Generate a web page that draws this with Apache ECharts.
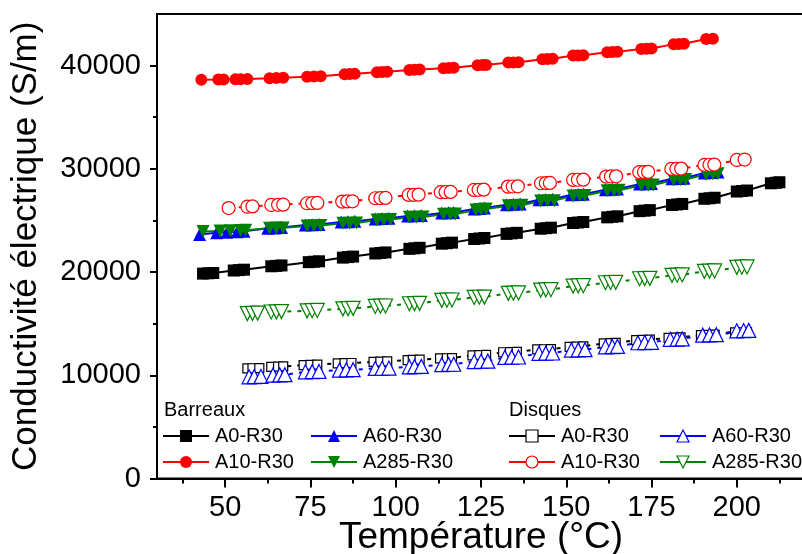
<!DOCTYPE html>
<html><head><meta charset="utf-8">
<script src="https://cdn.jsdelivr.net/npm/echarts@6/dist/echarts.min.js"></script>
<style>html,body{margin:0;padding:0;background:#fff}#c{width:802px;height:554px}</style>
</head><body><div id="c"></div>
<script>
const FONT = '"Liberation Sans", Arial, sans-serif';
const xTickLabels = [50, 75, 100, 125, 150, 175, 200];
const xMinorTicks = [37.5, 62.5, 87.5, 112.5, 137.5, 162.5, 187.5, 212.5];
const yTickLabels = [0, 10000, 20000, 30000, 40000];
const yMinorTicks = [5000, 15000, 25000, 35000];

// Barreaux A0-R30 (filled squares)
const barA0_T = [43.5,45,46.5, 52.5,54,55.5, 63.5,65,66.5, 74.5,76,77.5, 84.5,86,87.5, 94,95.5,97, 104,105.5,107, 113.5,115,116.5, 123,124.5,126, 132.5,134,135.5, 142.5,144,145.5, 152,153.5,155, 162,163.5,165, 171.5,173,174.5, 181,182.5,184, 190.5,192,193.5, 200,201.5,203, 210,211.5,212.5];
const barA0_S = [19850,19880,19910, 20150,20190,20230, 20560,20600,20640, 20960,21000,21040, 21400,21450,21500, 21800,21850,21900, 22250,22300,22350, 22750,22800,22850, 23200,23250,23300, 23700,23750,23800, 24200,24250,24300, 24750,24800,24850, 25300,25350,25400, 25900,25950,26000, 26500,26550,26600, 27100,27150,27200, 27800,27850,27900, 28600,28650,28700];
// Barreaux A10-R30 (filled circles)
const barA10_T = [43, 48,49.5, 53,54.5,56.5, 63,65,67, 74,76,78, 85,86.5,88, 94.5,96,97.5, 104,105.5,107, 114,115.5,117, 124,125.5,126.5, 133,134.5,136, 143,144.5,146, 152,153.5,155, 162,163.5,165, 172,173.5,175, 181.5,183,184.5, 191,193];
const barA10_S = [38630, 38650,38660, 38680,38690,38700, 38780,38800,38820, 38930,38950,38970, 39160,39180,39200, 39360,39380,39400, 39580,39600,39620, 39750,39770,39790, 40030,40050,40070, 40290,40310,40330, 40620,40640,40660, 40970,40990,41010, 41300,41320,41340, 41620,41640,41660, 42080,42100,42120, 42580,42610];
// Barreaux A60-R30 (filled up triangles)
const barA60_T = [42.5, 47.5,50.5,53.5,55.5, 62.5,64.5,66.5, 73.5,75.5,77.5, 84,86,88, 94,96,98, 103.5,105.5,107.5, 113.5,115.5,117, 123,124.5,126, 132.5,134.5,136.5, 142,144,146, 151.5,153.5,155, 161.5,163.5,165, 171.5,173.5,175, 181,183,184.5, 190.5,192.5,194.5];
const barA60_S = [23650, 23800,23850,23900,23950, 24250,24280,24310, 24550,24580,24610, 24850,24880,24910, 25150,25180,25210, 25420,25450,25480, 25720,25750,25780, 26100,26150,26200, 26530,26560,26590, 27000,27030,27060, 27480,27510,27540, 27980,28010,28040, 28520,28550,28580, 29030,29060,29090, 29600,29650,29700];
// Barreaux A285-R30 (filled down triangles)
const barA285_T = [43.5, 48.5,51.5,54.5,56, 63,65,67, 74,76,78, 84.5,86.5,88.5, 94.5,96.5,98.5, 104,106,108, 114,116,117.5, 123.5,125,126.5, 133,135,137, 142.5,144.5,146.5, 152,154,155.5, 162,164,165.5, 172,174,175.5, 181.5,183.5,185, 191,193,194.5];
const barA285_S = [23930, 23980,24000,24020,24040, 24240,24260,24280, 24460,24480,24500, 24720,24740,24760, 25040,25060,25080, 25300,25320,25340, 25590,25610,25630, 26000,26050,26100, 26430,26450,26470, 26880,26900,26920, 27380,27400,27420, 27880,27900,27920, 28400,28420,28440, 28920,28940,28960, 29480,29500,29520];

// Disques A0-R30 (open squares)
const diskA0_T = [56.5,58,60, 63.5,65.5,67, 73,75,77, 83,85,87, 93.5,95.5,97.5, 103.5,105,107, 113,115,116.5, 122.5,124.5,126.5, 131.5,133.5,135.5, 141.5,143.5,145.5, 151,153,155, 161,163,164.5, 170.5,172.5,174.5, 180,182,183.5, 189.5,191.5,193.5, 199.5,201.5,203];
const diskA0_S = [10660,10680,10700, 10820,10840,10860, 10985,11005,11025, 11150,11170,11190, 11305,11325,11345, 11470,11490,11510, 11630,11650,11670, 11930,11950,11970, 12230,12250,12270, 12500,12520,12540, 12760,12780,12800, 13090,13110,13130, 13410,13430,13450, 13630,13650,13670, 13890,13910,13930, 14150,14170,14190];
// Disques A10-R30 (open circles)
const diskA10_T = [51, 56.5,58, 63.5,65.5,67, 74,75.5,77, 84.3,85.8,87.3, 94,95.5,97, 103.8,105.3,106.7, 113.2,114.6,116.1, 122.9,124.3,125.8, 132.9,134.3,135.8, 142.6,144,145.2, 152,153.4,155, 161.7,163.1,164.6, 171.4,172.8,174, 180.8,182.3,183.7, 190.5,192,193.4, 200,202.3];
const diskA10_S = [26200, 26330,26360, 26500,26515,26530, 26665,26680,26695, 26825,26840,26855, 27150,27165,27180, 27470,27485,27500, 27735,27750,27765, 27955,27970,27985, 28275,28290,28305, 28605,28620,28635, 28925,28940,28955, 29245,29260,29275, 29675,29690,29705, 29990,30005,30020, 30380,30395,30410, 30860,30900];
// Disques A60-R30 (open up triangles)
const diskA60_T = [57,58.5,60.5, 64,66,67.5, 73.5,75.5,77.5, 83.5,85.5,87.5, 94,96,98, 104,105.5,107.5, 113.5,115.5,117, 123,125,127, 132,134,136, 142,144,146, 151.5,153.5,155.5, 161.5,163.5,165, 171,173,175, 180.5,182.5,184, 190,192,194, 200,202,203.5];
const diskA60_S = [9850,9870,9890, 10015,10035,10055, 10335,10355,10375, 10500,10520,10540, 10660,10680,10700, 10820,10840,10860, 11030,11050,11070, 11330,11350,11370, 11730,11750,11770, 12120,12140,12160, 12440,12460,12480, 12760,12780,12800, 13150,13170,13190, 13480,13500,13520, 13890,13910,13930, 14310,14330,14350];
// Disques A285-R30 (open down triangles)
const diskA285_T = [56.5,58,59.5, 63.5,65,66.5, 74,75.5,77, 84.5,86,87.5, 94,95.5,97, 104,105.5,107, 113.5,115,116.5, 123,124.5,126, 133,134.5,136, 142.5,144,145.5, 152,153.5,155, 161.5,163,164.5, 171.5,173,174.5, 181,182.5,184, 190.5,192,193.5, 200,201.5,203];
const diskA285_S = [15980,16000,16020, 16130,16150,16170, 16240,16260,16280, 16440,16460,16480, 16670,16690,16710, 16930,16950,16970, 17255,17275,17295, 17540,17560,17580, 17935,17955,17975, 18255,18275,18295, 18640,18660,18680, 18965,18985,19005, 19350,19370,19390, 19680,19700,19720, 20070,20090,20110, 20455,20475,20495];

const DOWN = 'path://M0,0 L10,0 L5,8.66 Z';
const BLACK = '#000000', RED = '#ff0000', BLUE = '#0000ff', GREEN = '#008000';

function zip(T, S) { return T.map((t, i) => [t, S[i]]); }
function barSeries(name, T, S, color, symbol, size) {
  return { name, type: 'line', data: zip(T, S), symbol, symbolSize: size,
    lineStyle: { color, width: 2 }, itemStyle: { color, borderWidth: 0 }, color };
}
function diskSeries(name, T, S, color, symbol, size) {
  return { name, type: 'line', data: zip(T, S), symbol, symbolSize: size,
    lineStyle: { color, width: 2, type: [4, 6] },
    itemStyle: { color: '#ffffff', borderColor: color, borderWidth: 1.2 }, color };
}

const series = [
  barSeries('Barreaux A0-R30', barA0_T, barA0_S, BLACK, 'rect', 12),
  barSeries('Barreaux A10-R30', barA10_T, barA10_S, RED, 'circle', 12),
  barSeries('Barreaux A60-R30', barA60_T, barA60_S, BLUE, 'triangle', 13),
  barSeries('Barreaux A285-R30', barA285_T, barA285_S, GREEN, DOWN, 13),
  diskSeries('Disques A0-R30', diskA0_T, diskA0_S, BLACK, 'rect', 9),
  diskSeries('Disques A10-R30', diskA10_T, diskA10_S, RED, 'circle', 13),
  diskSeries('Disques A60-R30', diskA60_T, diskA60_S, BLUE, 'triangle', 14),
  diskSeries('Disques A285-R30', diskA285_T, diskA285_S, GREEN, DOWN, 14)
];

function leg(name, left, top, disk) {
  const l = { data: [name], left, top, orient: 'horizontal', padding: 0, itemGap: 0,
    itemWidth: 46, itemHeight: 15, selectedMode: false,
    textStyle: { fontSize: 20, fontFamily: FONT, color: '#000', padding: [0, 0, 0, 1] },
    formatter: n => n.replace(/^\S+ /, ''),
    lineStyle: { type: 'solid', width: 2 } };
  if (disk) l.itemStyle = { color: '#ffffff', borderWidth: 1.2 };
  return l;
}

const legends = [
  leg('Barreaux A0-R30', 162, 426, false),
  leg('Barreaux A60-R30', 310, 426, false),
  leg('Barreaux A10-R30', 162, 452, false),
  leg('Barreaux A285-R30', 310, 452, false),
  leg('Disques A0-R30', 508, 426, true),
  leg('Disques A60-R30', 659, 426, true),
  leg('Disques A10-R30', 508, 452, true),
  leg('Disques A285-R30', 659, 452, true)
];

const chart = echarts.init(document.getElementById('c'), null, { renderer: 'canvas' });
chart.setOption({
  animation: false,
  backgroundColor: '#ffffff',
  grid: { left: 157, top: 14, right: -3, bottom: 75.5, show: true, borderColor: '#000', borderWidth: 2,
    backgroundColor: 'transparent', containLabel: false, outerBoundsMode: 'none' },
  legend: legends,
  graphic: [
    { type: 'text', left: 164, top: 400, style: { text: 'Barreaux', fontSize: 20, fontFamily: FONT, fill: '#000' } },
    { type: 'text', left: 509, top: 400, style: { text: 'Disques', fontSize: 20, fontFamily: FONT, fill: '#000' } }
  ],
  xAxis: [
    { type: 'value', min: 30, max: 220, position: 'bottom',
      name: 'Température (°C)', nameLocation: 'middle', nameGap: 41, nameMoveOverlap: false,
      nameTextStyle: { fontSize: 37, fontFamily: FONT, color: '#000' },
      axisLine: { show: true, lineStyle: { color: '#000', width: 2 } },
      axisTick: { show: true, length: 9, lineStyle: { color: '#000', width: 2 }, customValues: xTickLabels },
      axisLabel: { show: true, fontSize: 29, fontFamily: FONT, color: '#000', margin: 15, customValues: xTickLabels, formatter: v => String(v) },
      splitLine: { show: false } },
    { type: 'value', min: 30, max: 220, position: 'bottom',
      axisLine: { show: false },
      axisTick: { show: true, length: 5, lineStyle: { color: '#000', width: 2 }, customValues: xMinorTicks },
      axisLabel: { show: false }, splitLine: { show: false } }
  ],
  yAxis: [
    { type: 'value', min: 0, max: 45000,
      name: 'Conductivité électrique (S/m)', nameLocation: 'middle', nameGap: 113, nameMoveOverlap: false,
      nameTextStyle: { fontSize: 35, fontFamily: FONT, color: '#000' },
      axisLine: { show: true, lineStyle: { color: '#000', width: 2 } },
      axisTick: { show: true, length: 7, lineStyle: { color: '#000', width: 2 }, customValues: yTickLabels },
      axisLabel: { fontSize: 29, fontFamily: FONT, color: '#000', margin: 16, customValues: yTickLabels, formatter: v => String(v) },
      splitLine: { show: false } },
    { type: 'value', min: 0, max: 45000, position: 'left',
      axisLine: { show: false },
      axisTick: { show: true, length: 4, lineStyle: { color: '#000', width: 2 }, customValues: yMinorTicks },
      axisLabel: { show: false }, splitLine: { show: false } }
  ],
  series
});
</script></body></html>
